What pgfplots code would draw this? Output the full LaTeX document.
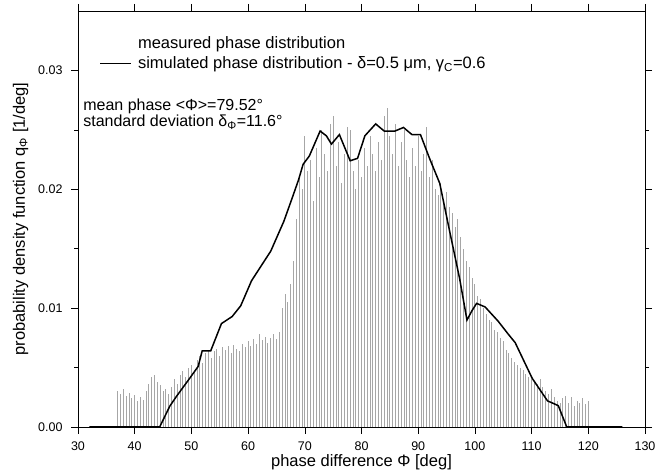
\documentclass[border=0pt]{standalone}
\usepackage{fontspec}
\setmainfont{Liberation Sans}
\usepackage{pgfplots}
\pgfplotsset{compat=1.18}
\usepackage{pgfplotstable}

\pgfplotstableread{
x y
37.0 0.0030
37.5 0.0028
38.0 0.0032
38.5 0.0026
39.0 0.0029
39.5 0.0024
40.0 0.0027
40.5 0.0022
41.0 0.0025
41.5 0.0023
42.0 0.0030
42.5 0.0036
43.0 0.0042
43.5 0.0044
44.0 0.0038
44.5 0.0035
45.0 0.0030
45.5 0.0032
46.0 0.0028
46.5 0.0034
47.0 0.0040
47.5 0.0036
48.0 0.0044
48.5 0.0047
49.0 0.0042
49.5 0.0050
50.0 0.0052
50.5 0.0048
51.0 0.0056
51.5 0.0060
52.0 0.0054
52.5 0.0062
53.0 0.0065
53.5 0.0058
54.0 0.0064
54.5 0.0066
55.0 0.0060
55.5 0.0067
56.0 0.0065
56.5 0.0068
57.0 0.0062
57.5 0.0069
58.0 0.0066
58.5 0.0064
59.0 0.0070
59.5 0.0067
60.0 0.0072
60.5 0.0068
61.0 0.0074
61.5 0.0070
62.0 0.0078
62.5 0.0073
63.0 0.0076
63.5 0.0071
64.0 0.0075
64.5 0.0078
65.0 0.0074
65.5 0.0080
66.0 0.0100
66.5 0.0112
67.0 0.0105
67.5 0.0120
68.0 0.0140
68.5 0.0175
69.0 0.0210
69.5 0.0200
70.0 0.0245
70.5 0.0215
71.0 0.0225
71.5 0.0190
72.0 0.0235
72.5 0.0210
73.0 0.0250
73.5 0.0230
74.0 0.0215
74.5 0.0255
75.0 0.0262
75.5 0.0220
76.0 0.0240
76.5 0.0205
77.0 0.0230
77.5 0.0252
78.0 0.0250
78.5 0.0215
79.0 0.0200
79.5 0.0225
80.0 0.0210
80.5 0.0235
81.0 0.0220
81.5 0.0245
82.0 0.0230
82.5 0.0215
83.0 0.0240
83.5 0.0225
84.0 0.0262
84.5 0.0268
85.0 0.0245
85.5 0.0230
86.0 0.0255
86.5 0.0220
87.0 0.0240
87.5 0.0250
88.0 0.0225
88.5 0.0210
89.0 0.0235
89.5 0.0220
90.0 0.0245
90.5 0.0215
91.0 0.0230
91.5 0.0252
92.0 0.0210
92.5 0.0225
93.0 0.0200
93.5 0.0195
94.0 0.0205
94.5 0.0190
95.0 0.0198
95.5 0.0185
96.0 0.0180
96.5 0.0168
97.0 0.0175
97.5 0.0160
98.0 0.0150
98.5 0.0140
99.0 0.0135
99.5 0.0125
100.0 0.0120
100.5 0.0110
101.0 0.0108
101.5 0.0100
102.0 0.0095
102.5 0.0090
103.0 0.0088
103.5 0.0082
104.0 0.0080
104.5 0.0075
105.0 0.0072
105.5 0.0065
106.0 0.0062
106.5 0.0058
107.0 0.0055
107.5 0.0052
108.0 0.0050
108.5 0.0048
109.0 0.0045
109.5 0.0042
110.0 0.0040
110.5 0.0038
111.0 0.0036
111.5 0.0040
112.0 0.0034
112.5 0.0030
113.0 0.0028
113.5 0.0032
114.0 0.0025
114.5 0.0022
115.0 0.0020
115.5 0.0024
116.0 0.0026
116.5 0.0020
117.0 0.0025
117.5 0.0018
118.0 0.0022
118.5 0.0020
119.0 0.0024
119.5 0.0019
120.0 0.0022
}\measured

\pgfplotstableread{
x y
32.0 0
44.4 0
46.2 0.00176
47.4 0.0026
49.7 0.0041
51.2 0.0051
51.9 0.0064
53.4 0.0064
55.3 0.0087
57.2 0.0093
58.7 0.0102
60.6 0.0123
62.5 0.0137
64.0 0.0148
66.3 0.0173
67.8 0.0193
68.9 0.0208
69.7 0.0221
70.8 0.0228
72.7 0.0249
73.8 0.0245
74.7 0.0238
76.1 0.0246
78.0 0.0224
79.3 0.0226
80.6 0.0245
82.5 0.0255
84.0 0.0249
85.9 0.0249
87.4 0.0252
88.9 0.0246
90.4 0.0246
92.0 0.0226
93.8 0.0205
95.4 0.0168
97.3 0.0125
98.6 0.0090
99.5 0.0098
100.3 0.0104
101.8 0.0101
104.1 0.0089
105.9 0.0078
107.1 0.0071
110.1 0.0041
112.8 0.0022
114.7 0.0018
116.2 0
126.0 0
}\simulated

\begin{document}
\begin{tikzpicture}
\begin{axis}[
  scale only axis,
  width=567pt, height=416pt,
  xmin=30, xmax=130, ymin=0, ymax=0.035,
  xtick={30,40,...,130},
  ytick={0,0.01,0.02,0.03},
  minor ytick={0.005,0.015,0.025},
  tick align=outside,
  major tick length=7pt, minor tick length=4pt,
  tick style={black, line width=0.5pt},
  scaled y ticks=false,
  ticklabel style={font=\fontsize{12.5}{14}\selectfont},
  yticklabel style={xshift=-5pt, /pgf/number format/fixed, /pgf/number format/fixed zerofill, /pgf/number format/precision=2, /pgf/number format/assume math mode=true},
  xticklabel style={yshift=-4.5pt, /pgf/number format/assume math mode=true},
  xlabel={phase difference Φ [deg]},
  ylabel={probability density function q\textsubscript{Φ} [1/deg]},
  label style={font=\fontsize{16.5}{18}\selectfont},
  xlabel style={yshift=3.5pt},
  ylabel style={yshift=3pt},
  axis line style={black, line width=0.6pt},
  legend style={draw=none, fill=none, at={(0.036,0.947)}, anchor=north west,
    font=\fontsize{16.5}{19}\selectfont, row sep=3pt, inner sep=1pt,
    nodes={inner xsep=6pt}},
  legend cell align=left,
  clip=true,
]
\addlegendimage{empty legend}
\addlegendentry{measured phase distribution}
\addlegendimage{legend image code/.code={\draw[black, line width=1.4pt] (0pt,0pt) -- (31pt,0pt);}}
\addlegendentry{simulated phase distribution - δ=0.5 μm, γ\textsubscript{C}=0.6}
\addplot[ycomb, gray!70, line width=0.9pt, forget plot] table[x=x, y=y] {\measured};
\addplot[black, line width=1.5pt, forget plot] table[x=x, y=y] {\simulated};
\node[anchor=north west, align=left, inner sep=0pt, font=\fontsize{16}{14}\selectfont]
  at (axis cs:30.9,0.0276) {mean phase <Φ>=79.52°\\standard deviation δ\textsubscript{Φ}=11.6°};
\end{axis}
\pgfresetboundingbox
\path[use as bounding box] ([shift={(-78pt,-46pt)}]current axis.south west) rectangle ([shift={(24pt,11pt)}]current axis.north east);
\end{tikzpicture}
\end{document}
